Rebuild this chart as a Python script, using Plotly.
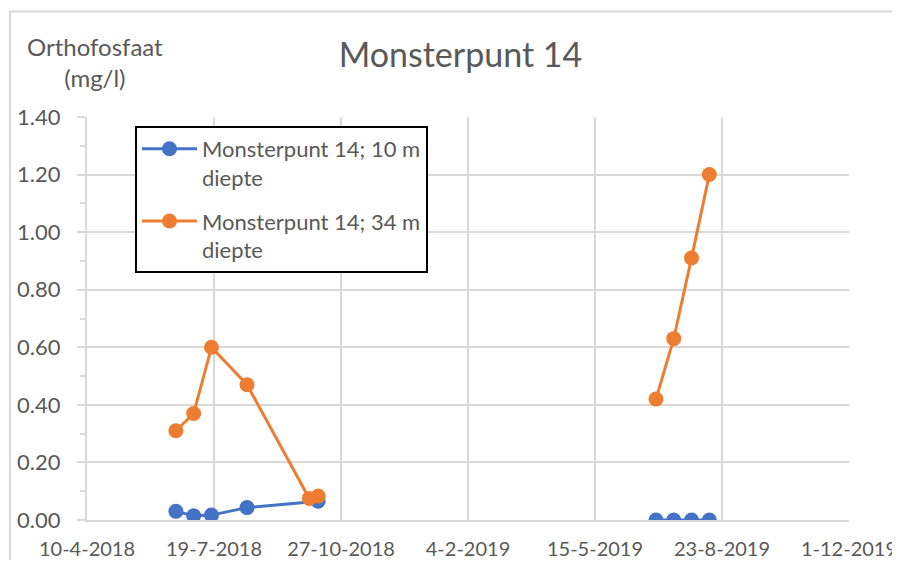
import plotly.graph_objects as go

# sample dates and orthophosphate values (mg/l); None breaks the line between campaigns
dates_10m = ["2018-06-19", "2018-07-03", "2018-07-17", "2018-08-14", "2018-10-09",
             "2019-01-01", "2019-07-02", "2019-07-16", "2019-07-30", "2019-08-13"]
vals_10m = [0.03, 0.015, 0.017, 0.043, 0.065, None, 0.0, 0.0, 0.0, 0.0]

dates_34m = ["2018-06-19", "2018-07-03", "2018-07-17", "2018-08-14", "2018-10-02", "2018-10-09",
             "2019-01-01", "2019-07-02", "2019-07-16", "2019-07-30", "2019-08-13"]
vals_34m = [0.31, 0.37, 0.60, 0.47, 0.075, 0.083, None, 0.42, 0.63, 0.91, 1.20]

x_tickvals = ["2018-04-10", "2018-07-19", "2018-10-27", "2019-02-04",
              "2019-05-15", "2019-08-23", "2019-12-01"]
x_ticktext = ["10-4-2018", "19-7-2018", "27-10-2018", "4-2-2019",
              "15-5-2019", "23-8-2019", "1-12-2019"]

FONT = "Lato"
TXT = "#595959"
GRID = "#D9D9D9"

# page pixels -> paper coords (plot area is 87..849 x 117..520 on the page)
def px_x(p):
    return (p - 87) / 762

def px_y(p):
    return (520 - p) / 403

fig = go.Figure()
fig.add_trace(go.Scatter(
    x=dates_10m, y=vals_10m, mode="lines+markers",
    name="Monsterpunt 14; 10 m<br>diepte", legendgroup="a",
    line=dict(color="#4472C4", width=3),
    marker=dict(size=15, color="#4472C4"),
))
fig.add_trace(go.Scatter(
    x=dates_34m, y=vals_34m, mode="lines+markers",
    name="Monsterpunt 14; 34 m<br>diepte", legendgroup="b",
    line=dict(color="#ED7D31", width=3),
    marker=dict(size=15, color="#ED7D31"),
))

# the page body adds an 8px offset; keep the figure inside the window
fig.update_layout(
    width=892, height=552,
    margin=dict(l=79, r=51, t=109, b=40, autoexpand=False),
    paper_bgcolor="white", plot_bgcolor="white",
    font=dict(family=FONT, color=TXT, size=21),
    title=dict(text="Monsterpunt 14", font=dict(size=34, color=TXT),
               x=px_x(460.5), xanchor="center", xref="paper",
               y=1 - 47 / 552, yref="container", yanchor="middle"),
    legend=dict(x=px_x(135), y=px_y(126), xanchor="left", yanchor="top",
                bordercolor="black", borderwidth=2, bgcolor="white",
                font=dict(size=22, color=TXT), valign="top",
                traceorder="grouped", tracegroupgap=12, itemwidth=55),
    showlegend=True,
)

fig.update_xaxes(
    type="date", range=["2018-04-10", "2019-12-01"],
    tickmode="array", tickvals=x_tickvals, ticktext=x_ticktext,
    showgrid=True, gridcolor=GRID, gridwidth=2,
    showline=True, linecolor=GRID, linewidth=2,
    ticks="", ticklabelstandoff=10, automargin=False,
    tickfont=dict(size=20, color=TXT),
    zeroline=False,
)
fig.update_yaxes(
    range=[0, 1.4], dtick=0.2, tick0=0, tickformat=".2f",
    showgrid=True, gridcolor=GRID, gridwidth=2,
    showline=True, linecolor=GRID, linewidth=2,
    ticks="outside", ticklen=8, tickcolor=GRID, tickwidth=2,
    ticklabelstandoff=12, automargin=False,
    minor=dict(dtick=0.1, ticks="outside", ticklen=5, tickcolor=GRID, tickwidth=2, showgrid=False),
    tickfont=dict(size=22, color=TXT),
    zeroline=False,
)

fig.add_annotation(
    text="Orthofosfaat<br>(mg/l)", xref="paper", yref="paper",
    x=px_x(95), y=px_y(62), xanchor="center", yanchor="middle",
    showarrow=False, align="center", font=dict(size=24, color=TXT),
)

# chart area border: only top and left edges are visible
fig.add_shape(type="line", xref="paper", yref="paper",
              x0=px_x(10), x1=px_x(905), y0=px_y(11.5), y1=px_y(11.5),
              line=dict(color=GRID, width=2), layer="below")
fig.add_shape(type="line", xref="paper", yref="paper",
              x0=px_x(10), x1=px_x(10), y0=px_y(11.5), y1=px_y(580),
              line=dict(color=GRID, width=2), layer="below")

fig.write_html("out.html")
